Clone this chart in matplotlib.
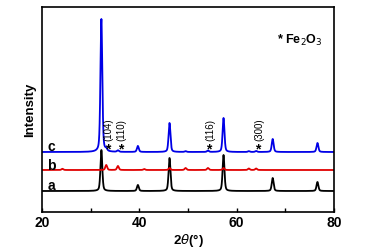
import numpy as np
import matplotlib
matplotlib.use("Agg")
import matplotlib.pyplot as plt
from matplotlib.ticker import MultipleLocator

plt.rcParams['font.family'] = ['Liberation Sans', 'DejaVu Sans']

# Peak lists (2theta in degrees, relative heights)
peaks_a_pos = [32.2, 39.7, 46.2, 57.3, 67.4, 76.6]
peaks_a_h   = [41, 6, 33, 36, 13, 9]
base_a = 21

peaks_b_pos = [24.2, 33.2, 35.6, 41.0, 46.2, 49.5, 54.1, 57.3, 62.5, 64.0]
peaks_b_h   = [1.2, 5, 4, 1, 2, 2, 2, 2, 1.5, 1.5]
base_b = 42

peaks_c_pos = [32.2, 33.2, 35.6, 39.7, 46.2, 49.5, 54.1, 57.3, 62.5, 64.0, 67.4, 76.6]
peaks_c_h   = [133, 2, 1.5, 6, 29, 0.8, 1.5, 34, 0.8, 1, 13, 9]
base_c = 60

hkl_labels = ["(104)", "(110)", "(116)", "(300)"]
hkl_pos = [33.4, 36.1, 54.2, 64.3]

x = np.linspace(20, 80, 6001)

def profile(pos, h, base, w=0.19):
    y = np.full_like(x, base, dtype=float)
    for p, hh in zip(pos, h):
        g = np.exp(-0.5 * ((x - p) / w) ** 2)
        l = 1.0 / (1.0 + ((x - p) / (1.2 * w)) ** 2)
        y += hh * (0.6 * g + 0.4 * l)
    return y

fig = plt.figure(figsize=(3.69, 2.52), dpi=100)
ax = fig.add_axes([42/369, 1 - 212/252, (334-42)/369, (212-7)/252])

ax.plot(x, profile(peaks_a_pos, peaks_a_h, base_a), color='black', lw=1.3)
ax.plot(x, profile(peaks_b_pos, peaks_b_h, base_b), color='#e00000', lw=1.3)
ax.plot(x, profile(peaks_c_pos, peaks_c_h, base_c), color='#0000e6', lw=1.3)

ax.set_xlim(20, 80)
ax.set_ylim(0, 205)
ax.set_yticks([])
ax.xaxis.set_major_locator(MultipleLocator(20))
ax.xaxis.set_minor_locator(MultipleLocator(10))
ax.tick_params(axis='x', which='both', direction='in', top=False, labelsize=10, width=1, pad=3)
ax.tick_params(axis='x', which='major', length=3)
ax.tick_params(axis='x', which='minor', length=3)
for lab in ax.get_xticklabels():
    lab.set_fontweight('bold')
for s in ax.spines.values():
    s.set_linewidth(1.2)

ax.set_xlabel(r"2$\theta$(°)", fontsize=9.5, fontweight='bold', labelpad=1)
ax.set_ylabel("Intensity", fontsize=9.5, fontweight='bold', labelpad=4)

for t, yy in zip(["c", "b", "a"], [65, 46, 26]):
    ax.text(22.0, yy, t, fontsize=10, fontweight='bold', ha='center', va='center')

for lab, p in zip(hkl_labels, hkl_pos):
    ax.text(p, 63, "*", fontsize=10, fontweight='bold', ha='center', va='center')
    ax.text(p + 0.3, 71, lab, fontsize=7, rotation=90, ha='center', va='bottom')

ax.text(68.2, 172, r"* Fe$_2$O$_3$", fontsize=9, fontweight='bold', ha='left', va='center')

fig.savefig("out.png", dpi=100)
